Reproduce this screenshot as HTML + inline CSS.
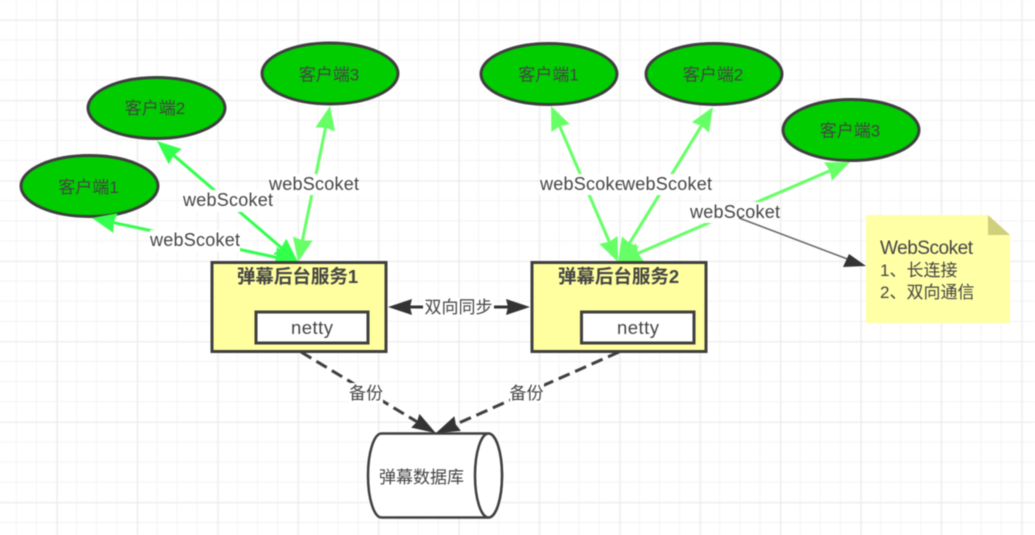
<!DOCTYPE html>
<html><head><meta charset="utf-8">
<style>
html,body{margin:0;padding:0;background:#fff;width:1035px;height:535px;overflow:hidden}
svg{display:block;filter:blur(.6px)}
text{font-family:"Liberation Sans","Noto Sans CJK SC",sans-serif;font-size:17px;fill:#444;text-anchor:middle}
</style></head><body>
<svg width="1035" height="535" viewBox="0 0 1035 535" xmlns="http://www.w3.org/2000/svg">
<defs>
<pattern id="minor" x="-3.4" y="0.2" width="20.1" height="20.1" patternUnits="userSpaceOnUse"><path d="M20.1 0V20.1M0 20.1H20.1" fill="none" stroke="#f2f2f2" stroke-width="1.6"/></pattern>
<pattern id="major" x="-23.4" y="20" width="80.4" height="80.4" patternUnits="userSpaceOnUse"><path d="M0 0V80.4M0 0H80.4" fill="none" stroke="#e9e9e9" stroke-width="1.6"/></pattern>
<marker id="g1" markerUnits="userSpaceOnUse" viewBox="0 -12 28 24" markerWidth="28" markerHeight="24" refX="16" refY="0" orient="auto-start-reverse"><path d="M0-10L24 0L0 10L2 0z" fill="#33ff4d"/></marker>
<marker id="g2" markerUnits="userSpaceOnUse" viewBox="0 -12 28 24" markerWidth="28" markerHeight="24" refX="16" refY="0" orient="auto-start-reverse"><path d="M0-10L24 0L0 10L2 0z" fill="#66ff66"/></marker>
<marker id="d" markerUnits="userSpaceOnUse" viewBox="0 -12 28 24" markerWidth="28" markerHeight="24" refX="16" refY="0" orient="auto-start-reverse"><path d="M0-8L24 0L0 8L2 0z" fill="#333"/></marker>
</defs>
<rect width="1035" height="535" fill="#fff"/>
<rect width="1035" height="535" fill="url(#minor)"/>
<rect width="1035" height="535" fill="url(#major)"/>
<g fill="#00cc00" stroke="#3f3f3f" stroke-width="3">
<ellipse cx="89.5" cy="186" rx="68.500" ry="30.500"/>
<ellipse cx="156.500" cy="108" rx="68.500" ry="30.500"/>
<ellipse cx="330" cy="73.500" rx="68" ry="30.500"/>
<ellipse cx="549" cy="74" rx="68" ry="30.500"/>
<ellipse cx="714" cy="74" rx="68" ry="30.500"/>
<ellipse cx="851" cy="130" rx="68" ry="30.500"/>
</g>
<g fill="none" stroke-width="3">
<line x1="290.2" y1="260.3" x2="99.8" y2="219.7" stroke="#33ff4d" marker-start="url(#g1)" marker-end="url(#g1)"/>
<line x1="291.9" y1="256.8" x2="163.1" y2="146.2" stroke="#33ff4d" marker-start="url(#g1)" marker-end="url(#g1)"/>
<line x1="299.6" y1="254.2" x2="328.4" y2="113.8" stroke="#66ff66" marker-start="url(#g2)" marker-end="url(#g2)"/>
<line x1="614.8" y1="254.6" x2="554.2" y2="113.4" stroke="#66ff66" marker-start="url(#g2)" marker-end="url(#g2)"/>
<line x1="622.2" y1="255.2" x2="708.8" y2="113.8" stroke="#66ff66" marker-start="url(#g2)" marker-end="url(#g2)"/>
<line x1="625.3" y1="258.8" x2="842.7" y2="165.2" stroke="#66ff66" marker-start="url(#g2)" marker-end="url(#g2)"/>
</g>
<g fill="#ffffa0" stroke="#3f3f3f" stroke-width="3">
<rect x="212" y="262.5" width="174" height="89"/>
<rect x="532" y="262.5" width="174" height="89"/>
</g>
<g fill="#fff" stroke="#3f3f3f" stroke-width="3">
<rect x="256" y="312" width="112" height="31"/>
<rect x="581.5" y="312" width="112.5" height="31"/>
</g>
<line x1="396" y1="307" x2="522" y2="307" stroke="#333" stroke-width="3" marker-start="url(#d)" marker-end="url(#d)"/>
<line x1="301" y1="352" x2="429" y2="429" stroke="#3f3f3f" stroke-width="3" stroke-dasharray="12 6" marker-end="url(#d)"/>
<line x1="619" y1="352" x2="443" y2="430" stroke="#3f3f3f" stroke-width="3" stroke-dasharray="12 6" marker-end="url(#d)"/>
<path d="M381.5 433.5H488.5C496 433.5 502 452.500 502 475.500C502 498.500 496 517.500 488.500 517.500H381.500C374 517.500 368 498.500 368 475.500C368 452.500 374 433.500 381.500 433.500Z" fill="#fff" stroke="#3f3f3f" stroke-width="2.500"/>
<ellipse cx="488.500" cy="475.500" rx="13.500" ry="42" fill="#fff" stroke="#3f3f3f" stroke-width="2.500"/>
<g fill="#fff">
<rect x="150" y="230" width="90" height="22"/>
<rect x="183" y="190" width="90" height="22"/>
<rect x="269" y="174" width="90" height="21"/>
<rect x="539" y="174" width="173" height="21"/>
<rect x="690" y="202" width="90" height="21"/>
<rect x="423" y="298" width="71" height="20"/>
<rect x="349" y="383" width="34" height="20"/>
<rect x="510" y="383" width="34" height="20"/>
</g>
<line x1="739" y1="218" x2="850" y2="260" stroke="#666" stroke-width="1.500"/>
<path d="M866 266L843 267L849 254z" fill="#333"/>
<path d="M866 215H988L1010 235V323H866z" fill="#ffffa6"/>
<path d="M988 215L1010 235H988z" fill="#cfcf7c"/>
<text x="88.500" y="193">客户端1</text>
<text x="155" y="114">客户端2</text>
<text x="329" y="80.500">客户端3</text>
<text x="548.500" y="80.500">客户端1</text>
<text x="713" y="80.500">客户端2</text>
<text x="850" y="136.500">客户端3</text>
<text x="195" y="246" style="font-size:18px" textLength="90">webScoket</text>
<text x="228" y="206" style="font-size:18px" textLength="90">webScoket</text>
<text x="314" y="190" style="font-size:18px" textLength="90">webScoket</text>
<text x="585" y="190" style="font-size:18px" textLength="90">webScoket</text>
<rect x="622" y="174" width="8" height="21" fill="#fff"/>
<text x="667" y="190" style="font-size:18px" textLength="90">webScoket</text>
<text x="735" y="218" style="font-size:18px" textLength="90">webScoket</text>
<text x="297.500" y="283" style="font-weight:bold;font-size:18.500px">弹幕后台服务1</text>
<text x="618.500" y="283" style="font-weight:bold;font-size:18.500px">弹幕后台服务2</text>
<text x="312" y="334" style="font-size:18.500px" textLength="42">netty</text>
<text x="638" y="334" style="font-size:18.500px" textLength="42">netty</text>
<text x="458.500" y="313">双向同步</text>
<text x="366" y="399">备份</text>
<text x="526.500" y="399">备份</text>
<text x="421.500" y="483">弹幕数据库</text>
<text x="880" y="254" style="text-anchor:start;font-size:19px" textLength="93">WebScoket</text>
<text x="880" y="276" style="text-anchor:start">1、长连接</text>
<text x="880" y="298" style="text-anchor:start">2、双向通信</text>
</svg>
</body></html>
